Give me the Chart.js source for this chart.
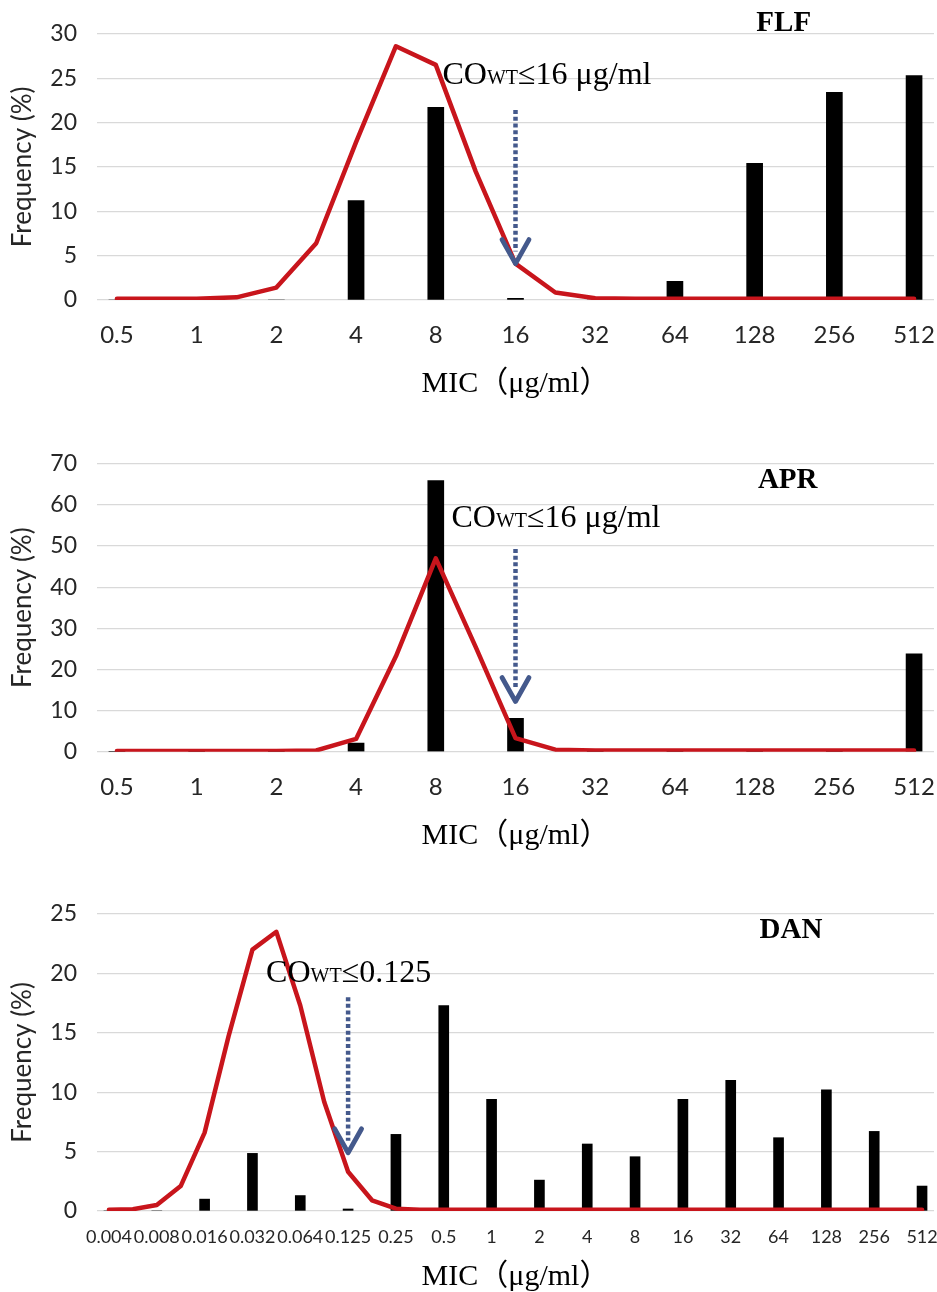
<!DOCTYPE html>
<html>
<head>
<meta charset="utf-8">
<script src="https://cdn.jsdelivr.net/npm/chart.js@4"></script>
<style>
  html, body { margin: 0; padding: 0; background: #fff; }
  body { width: 937px; height: 1292px; position: relative; overflow: hidden; }
  canvas { position: absolute; left: 0; }
</style>
</head>
<body>
<canvas id="c1" width="937" height="412" style="top:0px"></canvas>
<canvas id="c2" width="937" height="434" style="top:430px"></canvas>
<canvas id="c3" width="937" height="412" style="top:880px"></canvas>
<script>
// ---------- DATA ----------
const flfMic = ['0.5','1','2','4','8','16','32','64','128','256','512'];
const flfBars = [0, 0, 0, 11.2, 21.7, 0.2, 0, 2.1, 15.4, 23.4, 25.3];
// curve sampled at every MIC and half-step between MICs
const flfCurve = [0.15, 0.15, 0.15, 0.3, 1.4, 6.4, 17.8, 28.6, 26.5, 14.5, 4.1, 0.85, 0.2, 0.15, 0.15, 0.15, 0.15, 0.15, 0.15, 0.15, 0.15];
const flfYTicks = [0, 30, 5];

const aprMic = ['0.5','1','2','4','8','16','32','64','128','256','512'];
const aprBars = [0, 0, 0, 2.1, 65.9, 8.1, 0, 0, 0, 0, 23.8];
const aprCurve = [0.2, 0.2, 0.2, 0.2, 0.2, 0.3, 3.1, 23.2, 47.0, 25.5, 3.3, 0.5, 0.3, 0.3, 0.3, 0.3, 0.3, 0.3, 0.3, 0.3, 0.3];
const aprYTicks = [0, 70, 10];

const danMic = ['0.004','0.008','0.016','0.032','0.064','0.125','0.25','0.5','1','2','4','8','16','32','64','128','256','512'];
const danBars = [0, 0, 1.0, 4.85, 1.3, 0.17, 6.45, 17.3, 9.4, 2.6, 5.64, 4.57, 9.4, 11.0, 6.17, 10.2, 6.7, 2.1];
const danCurve = [0.1, 0.15, 0.5, 2.1, 6.6, 14.7, 22.0, 23.5, 17.3, 9.2, 3.3, 0.9, 0.2, 0.1, 0.1, 0.1, 0.1, 0.1, 0.1, 0.1, 0.1, 0.1, 0.1, 0.1, 0.1, 0.1, 0.1, 0.1, 0.1, 0.1, 0.1, 0.1, 0.1, 0.1, 0.1];
const danYTicks = [0, 25, 5];

const drugNames = ['FLF', 'APR', 'DAN'];
const cutoffMic = ['16', '16', '0.125'];
const cutoffText = ['≤16 μg/ml', '≤16 μg/ml', '≤0.125'];
const yTitle = 'Frequency (%)';
const xTitle = 'MIC（μg/ml）';

// ---------- helpers ----------
function halfStepLabels(mic) {
  const out = [];
  mic.forEach((m, i) => { out.push(m); if (i < mic.length - 1) out.push(''); });
  return out;
}
function spreadBars(vals) {
  const out = [];
  vals.forEach((v, i) => { out.push(v); if (i < vals.length - 1) out.push(null); });
  return out;
}

const SERIF = '"Liberation Serif", "Times New Roman", serif';
const SANS = 'Lato, "Noto Sans", sans-serif';

const cutoffPlugin = {
  id: 'cutoff',
  afterDatasetsDraw(chart, args, o) {
    const {ctx} = chart;
    const x = chart.scales.x, y = chart.scales.y;
    const ax = x.getPixelForValue(o.index);
    const yTop = y.getPixelForValue(o.arrowTop);
    const yTip = y.getPixelForValue(o.arrowTip);
    ctx.save();
    // dotted shaft
    ctx.strokeStyle = '#44598C';
    ctx.lineWidth = 4.5;
    ctx.setLineDash([4, 2.7]);
    ctx.lineCap = 'butt';
    ctx.beginPath();
    ctx.moveTo(ax, yTop);
    ctx.lineTo(ax, yTip - 12);
    ctx.stroke();
    // chevron
    ctx.setLineDash([]);
    ctx.lineWidth = 4.8;
    ctx.lineCap = 'round';
    ctx.lineJoin = 'round';
    ctx.beginPath();
    ctx.moveTo(ax - 13.5, yTip - 24);
    ctx.lineTo(ax, yTip);
    ctx.lineTo(ax + 13.5, yTip - 24);
    ctx.stroke();
    // label  CO_WT ...
    const ty = y.getPixelForValue(o.textY);
    let tx = ax + o.textDx;
    ctx.fillStyle = '#000';
    ctx.textBaseline = 'alphabetic';
    ctx.textAlign = 'left';
    ctx.font = '32px ' + SERIF;
    ctx.fillText('CO', tx, ty);
    tx += ctx.measureText('CO').width;
    ctx.font = '20px ' + SERIF;
    ctx.fillText('WT', tx, ty);
    tx += ctx.measureText('WT').width;
    ctx.font = '32px ' + SERIF;
    ctx.fillText(o.text, tx, ty);
    // drug title
    ctx.font = 'bold 29px ' + SERIF;
    ctx.textAlign = 'center';
    ctx.textBaseline = 'middle';
    ctx.fillText(o.title, x.getPixelForValue(o.titleX), y.getPixelForValue(o.titleY));
    ctx.restore();
  }
};

function makeChart(id, mic, bars, curve, yt, L, ann) {
  const labels = halfStepLabels(mic);
  return new Chart(document.getElementById(id), {
    type: 'bar',
    data: {
      labels: labels,
      datasets: [
        {
          type: 'line',
          data: curve,
          borderColor: '#C8151C',
          borderWidth: 4.5,
          pointRadius: 0,
          tension: 0,
          borderJoinStyle: 'round',
          borderCapStyle: 'round',
          order: 0
        },
        {
          type: 'bar',
          data: spreadBars(bars),
          backgroundColor: '#000',
          barThickness: L.barW,
          order: 1
        }
      ]
    },
    options: {
      responsive: false,
      animation: false,
      devicePixelRatio: 1,
      layout: { padding: { top: L.plotTop, right: 3, left: 0, bottom: 0 } },
      plugins: {
        legend: { display: false },
        tooltip: { enabled: false },
        cutoff: ann
      },
      scales: {
        x: {
          offset: true,
          grid: { display: false, drawTicks: false },
          border: { display: false },
          ticks: {
            autoSkip: false, maxRotation: 0, minRotation: 0,
            padding: L.tickPad,
            color: '#262626',
            font: { family: SANS, size: L.xFont }
          },
          title: {
            display: true, text: xTitle, color: '#000',
            font: { family: SERIF + ', "Noto Sans CJK SC"', size: 30, lineHeight: 1 },
            padding: { top: 0, bottom: L.titlePad }
          },
          afterFit(s) { s.height = L.xH; s.paddingLeft = 0; s.paddingRight = 0; }
        },
        y: {
          min: yt[0], max: yt[1],
          grid: { color: '#D9D9D9', lineWidth: 1.3, drawTicks: false },
          border: { display: false },
          ticks: {
            stepSize: yt[2], padding: 20, color: '#262626',
            font: { family: SANS, size: 23 }
          },
          title: {
            display: true, text: yTitle, color: '#262626',
            font: { family: SANS, size: 26, lineHeight: 1 },
            padding: { top: 10, bottom: 0 }
          },
          afterFit(s) { s.width = 97; }
        }
      }
    },
    plugins: [cutoffPlugin]
  });
}

makeChart('c1', flfMic, flfBars, flfCurve, flfYTicks,
  { plotTop: 31, xH: 112, tickPad: 21, titlePad: 13, xFont: 24, barW: 16 },
  { index: 2 * flfMic.indexOf(cutoffMic[0]), arrowTop: 21.4, arrowTip: 4.1, textY: 24.3, textDx: -73,
    text: cutoffText[0], title: drugNames[0], titleX: 16.73, titleY: 31.2 });

makeChart('c2', aprMic, aprBars, aprCurve, aprYTicks,
  { plotTop: 25, xH: 112.3, tickPad: 21, titlePad: 13, xFont: 24, barW: 16 },
  { index: 2 * aprMic.indexOf(cutoffMic[1]), arrowTop: 49.3, arrowTip: 12.2, textY: 54.7, textDx: -64,
    text: cutoffText[1], title: drugNames[1], titleX: 16.83, titleY: 66.0 });

makeChart('c3', danMic, danBars, danCurve, danYTicks,
  { plotTop: 34, xH: 81, tickPad: 15, titlePad: 0, xFont: 18, barW: 10 },
  { index: 2 * danMic.indexOf(cutoffMic[2]), arrowTop: 18.0, arrowTip: 4.9, textY: 19.3, textDx: -82,
    text: cutoffText[2], title: drugNames[2], titleX: 28.52, titleY: 23.65 });
</script>
</body>
</html>
